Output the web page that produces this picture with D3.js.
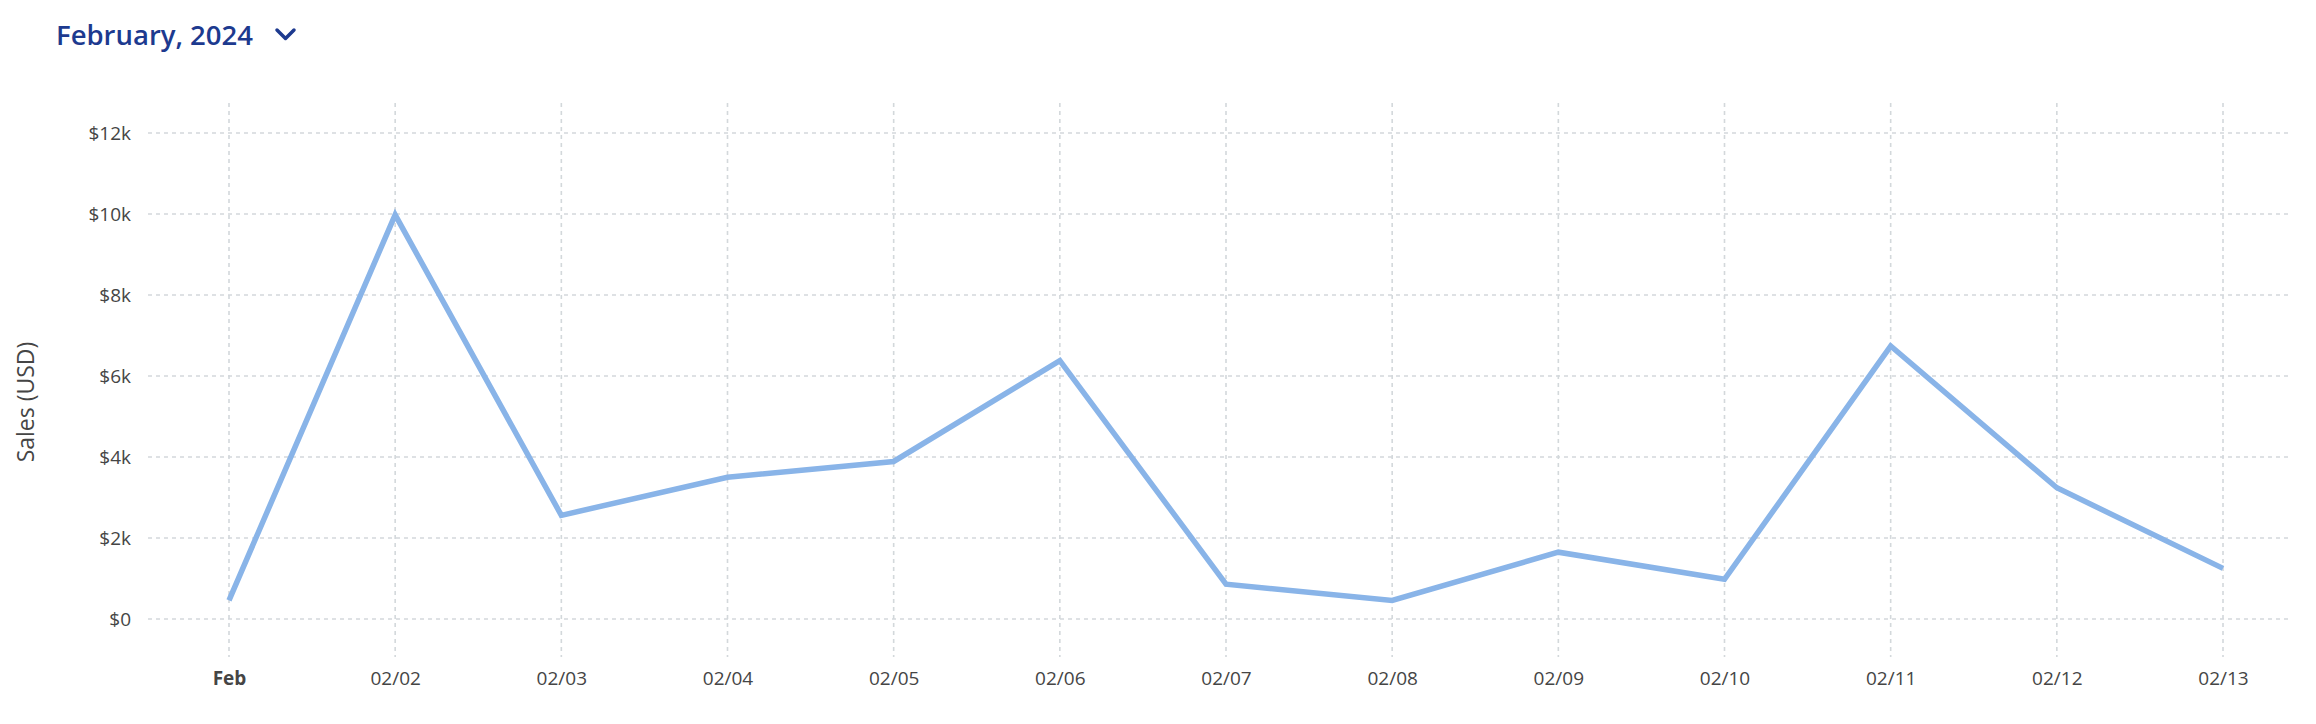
<!DOCTYPE html>
<html>
<head>
<meta charset="utf-8">
<script src="https://cdn.jsdelivr.net/npm/d3@7"></script>
<style>
  html, body { margin: 0; padding: 0; background: #ffffff; }
  svg { display: block; font-family: "Open Sans", sans-serif; }
</style>
</head>
<body>
<svg id="chart" width="2316" height="724"></svg>
<script>
const title = "February, 2024";
const yAxisLabel = "Sales (USD)";
const categories = ["Feb", "02/02", "02/03", "02/04", "02/05", "02/06", "02/07", "02/08", "02/09", "02/10", "02/11", "02/12", "02/13"];
const sales = [460, 9980, 2560, 3500, 3890, 6380, 860, 460, 1650, 980, 6740, 3240, 1250];
const yTicks = [0, 2000, 4000, 6000, 8000, 10000, 12000];
const yTickLabels = ["$0", "$2k", "$4k", "$6k", "$8k", "$10k", "$12k"];

const svg = d3.select("#chart");

// Title with chevron
svg.append("text")
  .attr("x", 56).attr("y", 45)
  .attr("font-size", 27.5).attr("font-weight", 600)
  .attr("fill", "#1d3a8f")
  .text(title);
svg.append("path")
  .attr("d", "M277,30 L285.5,38.5 L294,30")
  .attr("fill", "none").attr("stroke", "#1d3a8f")
  .attr("stroke-width", 3.5).attr("stroke-linecap", "round").attr("stroke-linejoin", "round");

const x = d3.scalePoint().domain(categories).range([229, 2223]);
const y = d3.scaleLinear().domain([0, 12000]).range([619, 133]);

const gridColor = "#d3d8db";
const grid = svg.append("g");

// horizontal gridlines
grid.selectAll("line.h").data(yTicks).enter().append("line")
  .attr("class", "h")
  .attr("x1", 148).attr("x2", 2292)
  .attr("y1", d => y(d)).attr("y2", d => y(d))
  .attr("stroke", gridColor).attr("stroke-width", 1.6)
  .attr("stroke-dasharray", "4,4");

// vertical gridlines
grid.selectAll("line.v").data(categories).enter().append("line")
  .attr("class", "v")
  .attr("x1", d => x(d)).attr("x2", d => x(d))
  .attr("y1", 103).attr("y2", 657)
  .attr("stroke", gridColor).attr("stroke-width", 1.6)
  .attr("stroke-dasharray", "4,4");

// y axis labels
const yAxis = d3.axisLeft(y).tickValues(yTicks)
  .tickFormat((d, i) => yTickLabels[i]).tickSize(0).tickPadding(0);
const yg = svg.append("g").attr("transform", "translate(131,0)").call(yAxis);
yg.select(".domain").remove();
yg.selectAll("text")
  .attr("font-family", "'Open Sans', sans-serif")
  .attr("font-size", 19).attr("fill", "#454545");

// x axis labels
const xAxis = d3.axisBottom(x).tickSize(0).tickPadding(0);
const xg = svg.append("g").attr("transform", "translate(0,671)").call(xAxis);
xg.select(".domain").remove();
xg.selectAll("text")
  .attr("font-family", "'Open Sans', sans-serif")
  .attr("font-size", 19).attr("fill", "#454545")
  .attr("font-weight", (d, i) => i === 0 ? 700 : 400);

// y axis title
svg.append("text")
  .attr("transform", "translate(34,402) rotate(-90)")
  .attr("text-anchor", "middle")
  .attr("font-size", 23).attr("fill", "#454545")
  .text(yAxisLabel);

// line
const line = d3.line()
  .x((d, i) => x(categories[i]))
  .y(d => y(d));
svg.append("path")
  .datum(sales)
  .attr("d", line)
  .attr("fill", "none")
  .attr("stroke", "#89b4e8")
  .attr("stroke-width", 5.5)
  .attr("stroke-linejoin", "miter");
</script>
</body>
</html>
